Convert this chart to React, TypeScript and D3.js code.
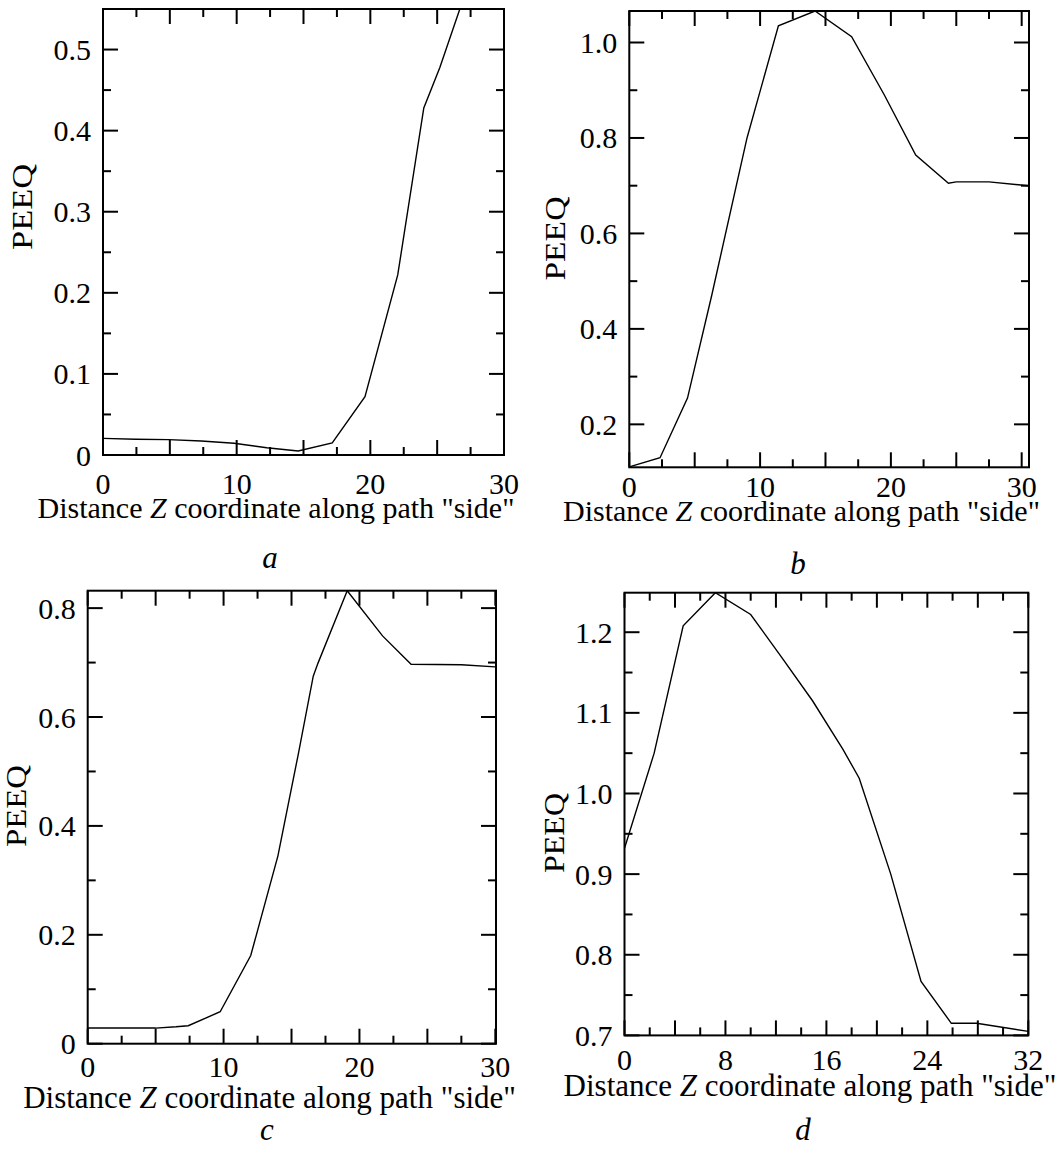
import React from "react";
import * as d3 from "d3";

// ---- data ----
const zA = [0, 2.45, 4.9, 7.35, 9.8, 12.25, 14.6, 17.15, 19.6, 22.05, 24.0, 25.2, 26.8, 29.4];
const peeqA = [0.0205, 0.0195, 0.019, 0.0172, 0.0145, 0.009, 0.005, 0.015, 0.072, 0.222, 0.428, 0.478, 0.555, 0.68];

const zB = [0, 2.35, 4.45, 6.3, 9.0, 11.4, 14.2, 17.0, 19.5, 21.9, 24.4, 25.0, 27.5, 30.5];
const peeqB = [0.111, 0.13, 0.255, 0.47, 0.8, 1.035, 1.066, 1.012, 0.89, 0.764, 0.705, 0.708, 0.708, 0.7];

const zC = [0, 5.0, 6.5, 7.4, 9.75, 12.0, 14.0, 15.5, 16.6, 16.95, 19.1, 21.7, 23.8, 27.5, 30.0];
const peeqC = [0.0287, 0.0287, 0.031, 0.033, 0.0587, 0.162, 0.345, 0.532, 0.675, 0.699, 0.832, 0.749, 0.697, 0.696, 0.692];

const zD = [0, 2.35, 4.65, 7.2, 10.0, 12.4, 14.9, 17.3, 18.6, 21.1, 23.5, 25.9, 27.9, 32];
const peeqD = [0.932, 1.05, 1.208, 1.249, 1.222, 1.17, 1.115, 1.055, 1.019, 0.9, 0.767, 0.715, 0.715, 0.705];

const xLabelsABC = [0, 10, 20, 30];
const xLabelsD = [0, 8, 16, 24, 32];
const yLabelsA = [0, 0.1, 0.2, 0.3, 0.4, 0.5];
const yLabelsB = [0.2, 0.4, 0.6, 0.8, 1.0];
const yLabelsC = [0, 0.2, 0.4, 0.6, 0.8];
const yLabelsD = [0.7, 0.8, 0.9, 1.0, 1.1, 1.2];

const xTitle = "Distance";
const xTitleRest = " coordinate along path \"side\"";
const yTitle = "PEEQ";
const subLabels = ["a", "b", "c", "d"];

const FONT = "'Liberation Serif', 'Times New Roman', serif";

type Panel = {
  id: string;
  z: number[];
  v: number[];
  xDomain: [number, number];
  yDomain: [number, number];
  box: { l: number; r: number; t: number; b: number };
  xMajor: number;
  xMinor: number;
  xLabels: number[];
  yMajor: number;
  yMinor: number;
  yLabels: number[];
  yFmt: (d: number) => string;
  xLabelY: number;
  title: { x: number; y: number; size: number };
  sub: { x: number; y: number; text: string };
  yt: { x: number; y: number; len: number };
};

const fmt1 = (d: number) => (d === 0 ? "0" : d3.format(".1f")(d));

const panels: Panel[] = [
  {
    id: "a", z: zA, v: peeqA, xDomain: [0, 30], yDomain: [0, 0.55],
    box: { l: 103, r: 504, t: 9, b: 455 },
    xMajor: 5, xMinor: 2.5, xLabels: xLabelsABC, yMajor: 0.1, yMinor: 0.05, yLabels: yLabelsA, yFmt: fmt1,
    xLabelY: 494, title: { x: 276, y: 518, size: 30 }, sub: { x: 270, y: 568, text: subLabels[0] },
    yt: { x: 32, y: 207, len: 86 },
  },
  {
    id: "b", z: zB, v: peeqB, xDomain: [0, 30.56], yDomain: [0.11, 1.066],
    box: { l: 629.3, r: 1029, t: 11, b: 467.3 },
    xMajor: 5, xMinor: 2.5, xLabels: xLabelsABC, yMajor: 0.2, yMinor: 0.1, yLabels: yLabelsB, yFmt: fmt1,
    xLabelY: 497, title: { x: 801.5, y: 521, size: 30 }, sub: { x: 798, y: 574, text: subLabels[1] },
    yt: { x: 565, y: 238.6, len: 84 },
  },
  {
    id: "c", z: zC, v: peeqC, xDomain: [0, 30.05], yDomain: [0, 0.832],
    box: { l: 87.7, r: 496, t: 590.7, b: 1043.7 },
    xMajor: 5, xMinor: 2.5, xLabels: xLabelsABC, yMajor: 0.2, yMinor: 0.1, yLabels: yLabelsC, yFmt: fmt1,
    xLabelY: 1077, title: { x: 269.6, y: 1108, size: 31 }, sub: { x: 267, y: 1140, text: subLabels[2] },
    yt: { x: 26, y: 806, len: 82 },
  },
  {
    id: "d", z: zD, v: peeqD, xDomain: [0, 32], yDomain: [0.7, 1.249],
    box: { l: 624.5, r: 1028.3, t: 592.7, b: 1035.4 },
    xMajor: 4, xMinor: 2, xLabels: xLabelsD, yMajor: 0.1, yMinor: 0.05, yLabels: yLabelsD, yFmt: fmt1,
    xLabelY: 1070, title: { x: 810, y: 1096, size: 31 }, sub: { x: 803, y: 1140, text: subLabels[3] },
    yt: { x: 564, y: 833, len: 80 },
  },
];

function ticksBetween(d0: number, d1: number, step: number): number[] {
  const out: number[] = [];
  const n0 = Math.ceil(d0 / step - 1e-6);
  const n1 = Math.floor(d1 / step + 1e-6);
  for (let i = n0; i <= n1; i++) out.push(+(i * step).toFixed(6));
  return out;
}

function PanelView({ p }: { p: Panel }) {
  const { box } = p;
  const x = d3.scaleLinear().domain(p.xDomain).range([box.l, box.r]);
  const y = d3.scaleLinear().domain(p.yDomain).range([box.b, box.t]);
  const line = d3
    .line<number>()
    .x((_, i) => x(p.z[i]))
    .y((d) => y(d));
  const MAJ = 15;
  const MIN = 8;
  const isMajor = (v: number, step: number) => Math.abs(v / step - Math.round(v / step)) < 1e-6;
  const xt = ticksBetween(p.xDomain[0], p.xDomain[1], p.xMinor);
  const ytk = ticksBetween(p.yDomain[0], p.yDomain[1], p.yMinor);
  return (
    <g>
      <defs>
        <clipPath id={"clip-" + p.id}>
          <rect x={box.l} y={box.t} width={box.r - box.l} height={box.b - box.t} />
        </clipPath>
      </defs>
      <path d={line(p.v) || ""} fill="none" stroke="#000" strokeWidth={1.4} clipPath={`url(#clip-${p.id})`} />
      <g stroke="#000" strokeWidth={2}>
        {xt.map((t) => {
          const L = isMajor(t, p.xMajor) ? MAJ : MIN;
          const xx = x(t);
          return (
            <g key={"x" + t}>
              <line x1={xx} x2={xx} y1={box.b} y2={box.b - L} />
              <line x1={xx} x2={xx} y1={box.t} y2={box.t + L} />
            </g>
          );
        })}
        {ytk.map((t) => {
          const L = isMajor(t, p.yMajor) ? MAJ : MIN;
          const yy = y(t);
          return (
            <g key={"y" + t}>
              <line x1={box.l} x2={box.l + L} y1={yy} y2={yy} />
              <line x1={box.r} x2={box.r - L} y1={yy} y2={yy} />
            </g>
          );
        })}
      </g>
      <rect x={box.l} y={box.t} width={box.r - box.l} height={box.b - box.t} fill="none" stroke="#000" strokeWidth={2} />
      <g fontFamily={FONT} fontSize={30} fill="#000">
        {p.xLabels.map((t) => (
          <text key={"xl" + t} x={x(t)} y={p.xLabelY} textAnchor="middle">
            {String(t)}
          </text>
        ))}
        {p.yLabels.map((t) => (
          <text key={"yl" + t} x={box.l - 12} y={y(t) + 10.5} textAnchor="end">
            {p.yFmt(t)}
          </text>
        ))}
      </g>
      <text x={p.title.x} y={p.title.y} textAnchor="middle" fontFamily={FONT} fontSize={p.title.size}>
        {xTitle + " "}
        <tspan fontStyle="italic">Z</tspan>
        {xTitleRest}
      </text>
      <text x={p.sub.x} y={p.sub.y} textAnchor="middle" fontFamily={FONT} fontSize={31} fontStyle="italic">
        {p.sub.text}
      </text>
      <text
        transform={`translate(${p.yt.x},${p.yt.y}) rotate(-90)`}
        textAnchor="middle"
        fontFamily={FONT}
        fontSize={30}
        textLength={p.yt.len}
        lengthAdjust="spacingAndGlyphs"
      >
        {yTitle}
      </text>
    </g>
  );
}

export default function App() {
  return (
    <svg
      width={1059}
      height={1149}
      style={{ position: "absolute", left: 0, top: 0, background: "#fff" }}
      xmlns="http://www.w3.org/2000/svg"
    >
      <rect width={1059} height={1149} fill="#fff" />
      {panels.map((p) => (
        <PanelView key={p.id} p={p} />
      ))}
    </svg>
  );
}
